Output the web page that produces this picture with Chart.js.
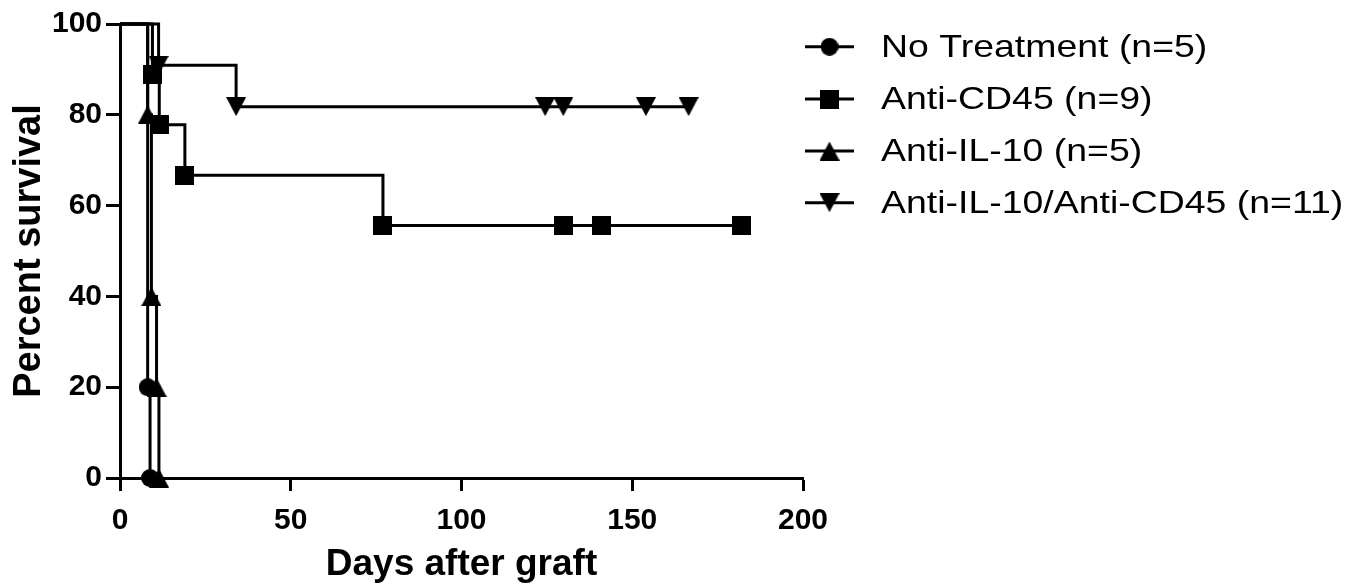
<!DOCTYPE html>
<html>
<head>
<meta charset="utf-8">
<script src="https://cdn.jsdelivr.net/npm/chart.js@4.4.1/dist/chart.umd.min.js"></script>
<style>
  html, body { margin: 0; padding: 0; background: #ffffff; overflow: hidden; }
  #wrap { width: 1351px; height: 587px; position: relative; background: #ffffff; }
  canvas { display: block; }
</style>
</head>
<body>
<div id="wrap"><canvas id="chart" width="1351" height="587"></canvas></div>
<script>
// ---------------- data ----------------
const seriesNames = ['No Treatment (n=5)', 'Anti-CD45 (n=9)', 'Anti-IL-10 (n=5)', 'Anti-IL-10/Anti-CD45 (n=11)'];

const noTreatmentDays     = [0, 8.1, 8.8];
const noTreatmentSurvival = [100, 20, 0];

const antiCD45Days     = [0, 9.5, 11.5, 19, 77, 130, 141, 182];
const antiCD45Survival = [100, 88.9, 77.8, 66.7, 55.6, 55.6, 55.6, 55.6];

const antiIL10Days     = [0, 8.1, 9.2, 10.7, 11.4];
const antiIL10Survival = [100, 80, 40, 20, 0];

const comboDays     = [0, 11.3, 34, 124.5, 129.8, 154, 166.5];
const comboSurvival = [100, 90.9, 81.8, 81.8, 81.8, 81.8, 81.8];

const xTickValues = [0, 50, 100, 150, 200];
const yTickValues = [0, 20, 40, 60, 80, 100];

const axisTitleX = 'Days after graft';
const axisTitleY = 'Percent survival';

// ---------------- marker images ----------------
function makeMarker(kind) {
  const c = document.createElement('canvas');
  const g = c.getContext('2d');
  if (kind === 'circle') {
    c.width = 18; c.height = 18;
    g.fillStyle = '#000';
    g.beginPath(); g.arc(9, 9, 9, 0, Math.PI * 2); g.fill();
  } else if (kind === 'square') {
    c.width = 19; c.height = 19;
    g.fillStyle = '#000';
    g.fillRect(0, 0, 19, 19);
  } else if (kind === 'up') {
    c.width = 20; c.height = 19;
    g.fillStyle = '#000';
    g.beginPath(); g.moveTo(0, 19); g.lineTo(20, 19); g.lineTo(10, 0); g.closePath(); g.fill();
  } else {
    c.width = 20; c.height = 19;
    g.fillStyle = '#000';
    g.beginPath(); g.moveTo(0, 0); g.lineTo(20, 0); g.lineTo(10, 19); g.closePath(); g.fill();
  }
  return c;
}
const markers = [makeMarker('circle'), makeMarker('square'), makeMarker('up'), makeMarker('down')];

function toPoints(days, surv) {
  return days.map((d, i) => ({ x: d, y: surv[i] }));
}
const seriesDays = [noTreatmentDays, antiCD45Days, antiIL10Days, comboDays];
const seriesSurv = [noTreatmentSurvival, antiCD45Survival, antiIL10Survival, comboSurvival];

const datasets = seriesNames.map((name, i) => ({
  label: name,
  data: toPoints(seriesDays[i], seriesSurv[i]),
  stepped: 'before',
  borderColor: '#000000',
  backgroundColor: '#000000',
  borderWidth: 3,
  borderCapStyle: 'butt',
  borderJoinStyle: 'miter',
  fill: false,
  tension: 0,
  pointStyle: markers[i],
  pointRadius: (ctx) => (ctx.dataIndex === 0 ? 0 : 9),
  pointHoverRadius: (ctx) => (ctx.dataIndex === 0 ? 0 : 9),
  clip: false
}));

// ---------------- legend drawn through Chart.js helpers ----------------
const legendRowsY = [46.7, 99, 151, 202.7];
const legendPlugin = {
  id: 'prismLegend',
  afterDraw(chart) {
    const ctx = chart.ctx;
    ctx.save();
    chart.data.datasets.forEach((ds, i) => {
      const y = legendRowsY[i];
      ctx.strokeStyle = '#000';
      ctx.lineWidth = 3;
      ctx.lineCap = 'butt';
      ctx.beginPath();
      ctx.moveTo(805, y);
      ctx.lineTo(854, y);
      ctx.stroke();
      Chart.helpers.drawPoint(ctx, { pointStyle: ds.pointStyle, radius: 9, rotation: 0, borderWidth: 0 }, 829.5, y);
      ctx.save();
      ctx.translate(881, y);
      ctx.scale(1.17, 1);
      ctx.fillStyle = '#000';
      ctx.font = '32px "Liberation Sans", Arial, Helvetica, sans-serif';
      ctx.textAlign = 'left';
      ctx.textBaseline = 'middle';
      ctx.fillText(ds.label, 0, 1);
      ctx.restore();
    });
    ctx.restore();
  }
};

const FONT = '"Liberation Sans", Arial, Helvetica, sans-serif';

new Chart(document.getElementById('chart'), {
  type: 'line',
  data: { datasets },
  options: {
    responsive: false,
    animation: false,
    events: [],
    devicePixelRatio: 1,
    layout: { padding: { top: 24, right: 548, bottom: 0, left: 0 } },
    plugins: { legend: { display: false }, tooltip: { enabled: false } },
    scales: {
      x: {
        type: 'linear',
        min: 0, max: 200,
        afterBuildTicks: (scale) => { scale.ticks = xTickValues.map(v => ({ value: v })); },
        afterFit: (scale) => { scale.height = 587 - 478; },
        grid: { drawOnChartArea: false, drawTicks: true, tickLength: 13, tickWidth: 3, tickColor: '#000' },
        border: { display: true, width: 3, color: '#000' },
        ticks: { color: '#000', padding: 12, font: { family: FONT, size: 30, weight: 'bold' }, maxRotation: 0 },
        title: { display: true, text: axisTitleX, color: '#000', font: { family: FONT, size: 37, weight: 'bold', lineHeight: 1.2 }, padding: { top: 0, bottom: 0 } }
      },
      y: {
        type: 'linear',
        min: 0, max: 100,
        afterBuildTicks: (scale) => { scale.ticks = yTickValues.map(v => ({ value: v })); },
        afterFit: (scale) => { scale.width = 120; },
        grid: { drawOnChartArea: false, drawTicks: true, tickLength: 14, tickWidth: 3, tickColor: '#000' },
        border: { display: true, width: 3, color: '#000' },
        ticks: { color: '#000', padding: 4, font: { family: FONT, size: 30, weight: 'bold' } },
        title: { display: true, text: axisTitleY, color: '#000', font: { family: FONT, size: 38, weight: 'bold', lineHeight: 1.2 }, padding: { top: 7, bottom: 0 } }
      }
    }
  },
  plugins: [legendPlugin]
});
</script>
</body>
</html>
